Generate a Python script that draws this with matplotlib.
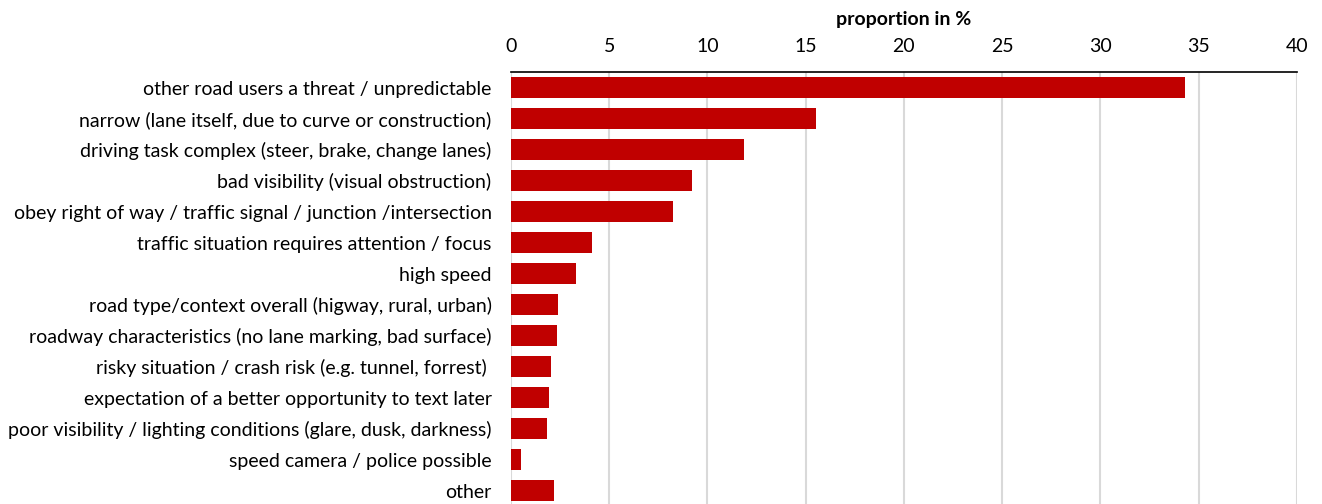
import matplotlib
matplotlib.use("Agg")
import matplotlib.pyplot as plt

categories = [
    "other road users a threat / unpredictable",
    "narrow (lane itself, due to curve or construction)",
    "driving task complex (steer, brake, change lanes)",
    "bad visibility (visual obstruction)",
    "obey right of way / traffic signal / junction /intersection",
    "traffic situation requires attention / focus",
    "high speed",
    "road type/context overall (higway, rural, urban)",
    "roadway characteristics (no lane marking, bad surface)",
    "risky situation / crash risk (e.g. tunnel, forrest) ",
    "expectation of a better opportunity to text later",
    "poor visibility / lighting conditions (glare, dusk, darkness)",
    "speed camera / police possible",
    "other",
]
values = [34.3, 15.5, 11.85, 9.2, 8.25, 4.15, 3.3, 2.4, 2.35, 2.05, 1.92, 1.83, 0.51, 2.17]
ticks = [0, 5, 10, 15, 20, 25, 30, 35, 40]

plt.rcParams["font.family"] = ["Lato", "DejaVu Sans"]

fig = plt.figure(figsize=(13.22, 5.04), dpi=100)
ax = fig.add_axes([0.3865, -0.004, 0.5945, 0.861])

y = list(range(len(categories)))
ax.barh(y, values, height=0.65, color="#C00000", zorder=3)
ax.set_ylim(len(categories) - 0.5, -0.5)
ax.set_xlim(0, 40)
ax.set_yticks(y)
ax.set_yticklabels(categories, fontsize=14)
ax.set_xticks(ticks)
ax.set_xticklabels([str(t) for t in ticks], fontsize=14)
ax.xaxis.tick_top()
ax.xaxis.set_label_position("top")
ax.set_xlabel("proportion in %", fontsize=14, fontweight="bold", labelpad=10)
ax.tick_params(axis="both", length=0)
ax.tick_params(axis="x", pad=12)
ax.tick_params(axis="y", pad=14)
ax.grid(axis="x", color="#D9D9D9", linewidth=1.5, zorder=0)
for s in ["bottom", "left", "right"]:
    ax.spines[s].set_visible(False)
ax.spines["top"].set_color("black")
ax.spines["top"].set_linewidth(1.2)
ax.spines["top"].set_zorder(4)

fig.savefig("out.png", dpi=100)
